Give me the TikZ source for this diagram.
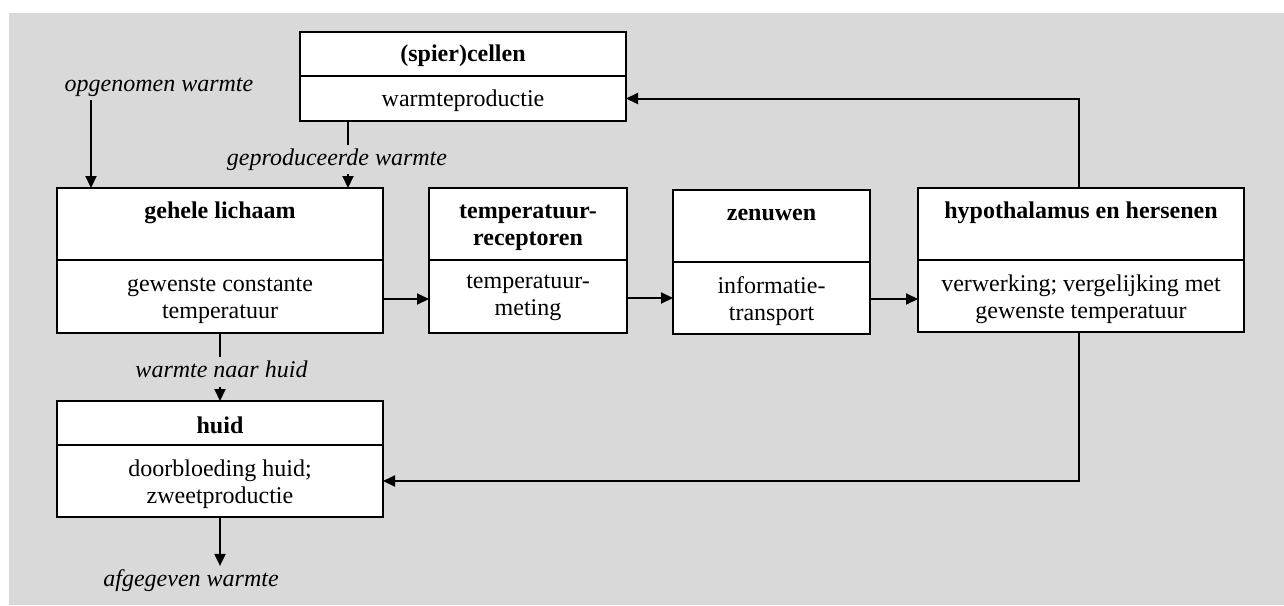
\documentclass[tikz,border=0pt]{standalone}
\usepackage{fontspec}
\setmainfont{Liberation Serif}
\usetikzlibrary{arrows.meta}
\definecolor{bggray}{RGB}{217,217,217}
\begin{document}
\begin{tikzpicture}[x=1pt,y=-1pt,
  font=\fontsize{24}{27}\selectfont,
  sec/.style={draw, fill=white, line width=2pt, inner sep=0pt, outer sep=0pt, align=center},
  ttl/.style={font=\fontsize{24}{27}\selectfont\bfseries, align=center, inner sep=0pt, anchor=north},
  txt/.style={font=\fontsize{24}{27}\selectfont, align=center, inner sep=0pt},
  lbl/.style={font=\fontsize{24}{27}\selectfont\itshape, inner xsep=2pt, inner ysep=1pt, anchor=base},
  arr/.style={line width=2pt, -{Triangle[length=12pt,width=11pt]}},
  ln/.style={line width=2pt}]
\useasboundingbox (0,0) rectangle (1284,605);
\fill[bggray] (9,13) rectangle (1284,605);

% (spier)cellen
\node[sec, minimum width=326pt, minimum height=44pt] (scT) at (463,54) {};
\node[sec, minimum width=326pt, minimum height=45pt] (scB) at (463,98.5) {};
\node[txt, font=\fontsize{24}{27}\selectfont\bfseries] (scTt) at ([yshift=-1.5pt]scT.center) {(spier)cellen};
\node[txt] (scBt) at ([yshift=-2.5pt]scB.center) {warmteproductie};

% gehele lichaam
\node[sec, minimum width=326pt, minimum height=72pt] (glT) at (220,224) {};
\node[sec, minimum width=326pt, minimum height=73pt] (glB) at (220,296.5) {};
\node[ttl] (glTt) at ([yshift=-11pt]glT.north) {\strut gehele lichaam};
\node[txt] (glBt) at ([yshift=-4pt]glB.center) {gewenste constante\\temperatuur};

% temperatuurreceptoren
\node[sec, minimum width=198pt, minimum height=72pt] (trT) at (528,224) {};
\node[sec, minimum width=198pt, minimum height=73pt] (trB) at (528,296.5) {};
\node[ttl] (trTt) at ([yshift=-11pt]trT.north) {\strut temperatuur-\\\strut receptoren};
\node[txt] (trBt) at ([yshift=-1pt]trB.center) {temperatuur-\\meting};

% zenuwen
\node[sec, minimum width=197pt, minimum height=72pt] (znT) at (771.5,226) {};
\node[sec, minimum width=197pt, minimum height=72pt] (znB) at (771.5,298) {};
\node[ttl] (znTt) at ([yshift=-11pt]znT.north) {\strut zenuwen};
\node[txt] (znBt) at ([yshift=-3pt]znB.center) {informatie-\\transport};

% hypothalamus
\node[sec, minimum width=326pt, minimum height=72pt] (hyT) at (1081,224) {};
\node[sec, minimum width=326pt, minimum height=72pt] (hyB) at (1081,296) {};
\node[ttl] (hyTt) at ([yshift=-11pt]hyT.north) {\strut hypothalamus en hersenen};
\node[txt] (hyBt) at ([yshift=-3pt]hyB.center) {verwerking; vergelijking met\\gewenste temperatuur};

% huid
\node[sec, minimum width=326pt, minimum height=44pt] (huT) at (220,423) {};
\node[sec, minimum width=326pt, minimum height=72pt] (huB) at (220,481) {};
\node[txt, font=\fontsize{24}{27}\selectfont\bfseries] (huTt) at ([yshift=-2pt]huT.center) {huid};
\node[txt] (huBt) at ([yshift=-3pt]huB.center) {doorbloeding huid;\\zweetproductie};

% labels
\node[lbl] (og) at (159,91) {\strut opgenomen warmte};
\node[lbl] (gp) at (337,165) {\strut geproduceerde warmte};
\node[lbl] (wh) at (221.5,377.5) {\strut warmte naar huid};
\node[lbl] (ag) at (191,586) {\strut afgegeven warmte};

\coordinate (glin1) at (91,188);
\coordinate (glin2) at (348,188);

% connectors
\draw[arr] (og.south -| glin1) -- (glin1);
\draw[ln] (scB.south -| glin2) -- (gp.north -| glin2);
\draw[arr] (gp.south -| glin2) -- (glin2);
\draw[ln] (glB.south) -- (wh.north -| glB.south);
\draw[arr] (wh.south -| glB.south) -- (huT.north);
\draw[arr] (huB.south) -- (ag.north -| huB.south);
\draw[arr] ([yshift=-2.5pt]glB.east) -- ([yshift=-2.5pt]glB.east -| trB.west);
\draw[arr] ([yshift=-1.5pt]trB.east) -- ([yshift=-1.5pt]trB.east -| znB.west);
\draw[arr] ([yshift=-1pt]znB.east) -- ([yshift=-1pt]znB.east -| hyB.west);
\draw[arr] ([xshift=-2pt]hyT.north) |- (scB.east);
\draw[arr] ([xshift=-2pt]hyB.south) |- (huB.east);
\end{tikzpicture}
\end{document}
